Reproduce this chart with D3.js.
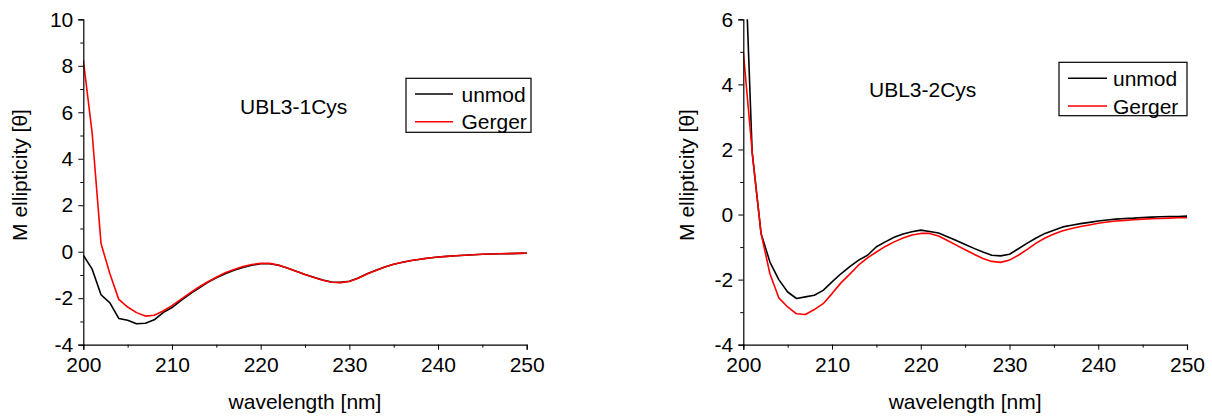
<!DOCTYPE html>
<html>
<head>
<meta charset="utf-8">
<script src="https://cdn.jsdelivr.net/npm/d3@7"></script>
<style>
  html, body { margin: 0; padding: 0; background: #fff; }
  svg text { font-family: "Liberation Sans", Arial, sans-serif; fill: #000; }
</style>
</head>
<body>
<svg id="chart" width="1212" height="416"></svg>
<script>
// ---------- data ----------
const wavelengths = d3.range(200, 251, 1);

// Panel 1: UBL3-1Cys
const p1Unmod = [-0.15,-0.75,-1.85,-2.2,-2.87,-2.95,-3.1,-3.08,-2.93,-2.62,
  -2.4,-2.1,-1.82,-1.57,-1.33,-1.12,-0.95,-0.8,-0.68,-0.58,
  -0.52,-0.52,-0.58,-0.7,-0.84,-0.98,-1.1,-1.22,-1.3,-1.32,
  -1.27,-1.13,-0.95,-0.8,-0.66,-0.54,-0.45,-0.38,-0.32,-0.27,
  -0.23,-0.2,-0.17,-0.15,-0.13,-0.11,-0.1,-0.09,-0.08,-0.07,-0.06];
const p1Gerger = [8.25,5.1,0.35,-0.95,-2.05,-2.38,-2.62,-2.77,-2.73,-2.55,
  -2.32,-2.05,-1.78,-1.53,-1.3,-1.1,-0.9,-0.76,-0.64,-0.55,
  -0.5,-0.5,-0.57,-0.7,-0.84,-0.98,-1.11,-1.23,-1.31,-1.33,
  -1.28,-1.14,-0.96,-0.81,-0.66,-0.54,-0.45,-0.38,-0.32,-0.27,
  -0.23,-0.2,-0.17,-0.15,-0.13,-0.11,-0.1,-0.09,-0.08,-0.07,-0.06];

// Panel 2: UBL3-2Cys
const p2Unmod = [9.4,1.9,-0.58,-1.46,-2.0,-2.38,-2.58,-2.53,-2.48,-2.33,
  -2.07,-1.82,-1.6,-1.4,-1.25,-0.99,-0.84,-0.7,-0.6,-0.53,
  -0.48,-0.52,-0.57,-0.68,-0.8,-0.92,-1.04,-1.15,-1.25,-1.27,
  -1.22,-1.05,-0.88,-0.72,-0.58,-0.48,-0.38,-0.33,-0.28,-0.24,
  -0.2,-0.17,-0.14,-0.12,-0.11,-0.09,-0.08,-0.07,-0.06,-0.06,-0.05];
const p2Gerger = [5.0,1.93,-0.58,-1.82,-2.56,-2.84,-3.05,-3.07,-2.92,-2.74,
  -2.43,-2.1,-1.83,-1.55,-1.33,-1.15,-0.98,-0.84,-0.72,-0.63,
  -0.58,-0.58,-0.66,-0.8,-0.94,-1.08,-1.22,-1.35,-1.44,-1.47,
  -1.4,-1.25,-1.07,-0.88,-0.72,-0.6,-0.5,-0.43,-0.37,-0.32,
  -0.27,-0.23,-0.2,-0.18,-0.16,-0.14,-0.13,-0.12,-0.11,-0.1,-0.1];

const seriesNames = ["unmod", "Gerger"];
const seriesColors = ["#000000", "#ff0000"];
const xTicks = [200, 210, 220, 230, 240, 250];
const xMinorTicks = [205, 215, 225, 235, 245];
const p1YTicks = [-4, -2, 0, 2, 4, 6, 8, 10];
const p1YMinor = [-3, -1, 1, 3, 5, 7, 9];
const p2YTicks = [-4, -2, 0, 2, 4, 6];
const p2YMinor = [-3, -1, 1, 3, 5];
const titles = ["UBL3-1Cys", "UBL3-2Cys"];
const xTitle = "wavelength [nm]";
const yTitle = "M ellipticity [θ]";

// ---------- layout ----------
const FS = 21;
const panels = [
  { left: 83.3, right: 526.7, top: 19.3, bottom: 344.7, yDomain: [-4, 10],
    yTicks: p1YTicks, yMinor: p1YMinor, series: [p1Unmod, p1Gerger], title: titles[0],
    titleX: 240, titleY: 113.5, yTitleX: 27,
    legend: { x0: 406, y0: 78.3, x1: 531, y1: 132.3, lx0: 415, lx1: 453, tx: 461.5, rows: [94, 121.7] } },
  { left: 743.3, right: 1187, top: 19.3, bottom: 344.7, yDomain: [-4, 6],
    yTicks: p2YTicks, yMinor: p2YMinor, series: [p2Unmod, p2Gerger], title: titles[1],
    titleX: 869, titleY: 96.5, yTitleX: 694,
    legend: { x0: 1059, y0: 62.3, x1: 1187, y1: 115.7, lx0: 1068, lx1: 1107, tx: 1113, rows: [78.3, 106] } }
];

const svg = d3.select("#chart");

panels.forEach((p, pi) => {
  const x = d3.scaleLinear().domain([200, 250]).range([p.left, p.right]);
  const y = d3.scaleLinear().domain(p.yDomain).range([p.bottom, p.top]);
  const g = svg.append("g");

  // clip
  const clipId = "clip" + pi;
  svg.append("clipPath").attr("id", clipId).append("rect")
    .attr("x", p.left).attr("y", p.top).attr("width", p.right - p.left + 2).attr("height", p.bottom - p.top);

  // lines
  const line = d3.line().x((d, i) => x(wavelengths[i])).y(d => y(d));
  p.series.forEach((s, si) => {
    g.append("path").datum(s)
      .attr("clip-path", `url(#${clipId})`)
      .attr("fill", "none")
      .attr("stroke", seriesColors[si])
      .attr("stroke-width", 1.6)
      .attr("stroke-linejoin", "round")
      .attr("d", line);
  });

  // axes
  const xAxis = g.append("g").attr("transform", `translate(0,${p.bottom})`)
    .call(d3.axisBottom(x).tickValues(xTicks).tickSize(5).tickPadding(7).tickFormat(d3.format("d")));
  g.append("g").attr("transform", `translate(0,${p.bottom})`)
    .call(d3.axisBottom(x).tickValues(xMinorTicks).tickSize(3).tickFormat(""))
    .call(a => a.select(".domain").remove());
  const yAxis = g.append("g").attr("transform", `translate(${p.left},0)`)
    .call(d3.axisLeft(y).tickValues(p.yTicks).tickSize(5).tickPadding(5).tickFormat(d3.format("d")));
  g.append("g").attr("transform", `translate(${p.left},0)`)
    .call(d3.axisLeft(y).tickValues(p.yMinor).tickSize(3).tickFormat(""))
    .call(a => a.select(".domain").remove());

  g.selectAll(".domain").attr("stroke", "#000").attr("stroke-width", 1.2);
  g.selectAll(".tick line").attr("stroke", "#000").attr("stroke-width", 1);
  g.selectAll(".tick text").attr("font-size", FS).attr("fill", "#000")
    .attr("font-family", '"Liberation Sans", Arial, sans-serif');
  yAxis.selectAll(".tick text").text(d => d < 0 ? "-" + Math.abs(d) : String(d));

  // axis titles
  g.append("text").attr("x", (p.left + p.right) / 2).attr("y", 409)
    .attr("text-anchor", "middle").attr("font-size", FS).text(xTitle);
  g.append("text").attr("transform", `translate(${p.yTitleX},${(p.top + p.bottom) / 2 - 7}) rotate(-90)`)
    .attr("text-anchor", "middle").attr("font-size", FS).text(yTitle);

  // panel annotation
  g.append("text").attr("x", p.titleX).attr("y", p.titleY).attr("font-size", FS).text(p.title);

  // legend
  const L = p.legend;
  g.append("rect").attr("x", L.x0).attr("y", L.y0).attr("width", L.x1 - L.x0).attr("height", L.y1 - L.y0)
    .attr("fill", "#fff").attr("stroke", "#000").attr("stroke-width", 1.2);
  seriesNames.forEach((n, si) => {
    g.append("line").attr("x1", L.lx0).attr("x2", L.lx1).attr("y1", L.rows[si]).attr("y2", L.rows[si])
      .attr("stroke", seriesColors[si]).attr("stroke-width", 1.6);
    g.append("text").attr("x", L.tx).attr("y", L.rows[si] + 7.5).attr("font-size", FS).text(n);
  });
});
</script>
</body>
</html>
